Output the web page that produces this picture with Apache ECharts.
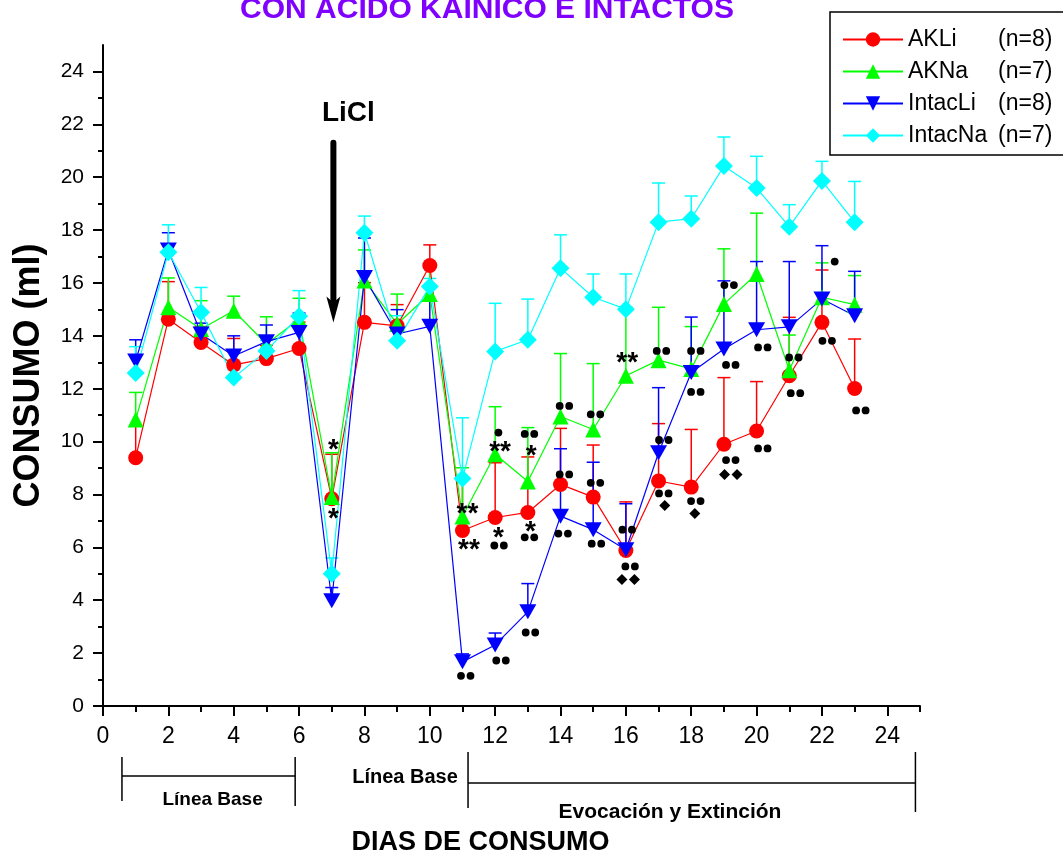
<!DOCTYPE html>
<html>
<head>
<meta charset="utf-8">
<script src="https://cdn.jsdelivr.net/npm/echarts@6/dist/echarts.min.js"></script>
<style>
html, body { margin: 0; padding: 0; background: #fff; }
#chart { width: 1063px; height: 853px; }
</style>
</head>
<body>
<div id="chart"></div>
<script>
var days = [1, 2, 3, 4, 5, 6, 7, 8, 9, 10, 11, 12, 13, 14, 15, 16, 17, 18, 19, 20, 21, 22, 23];

var akliMean = [9.39, 14.63, 13.75, 12.9, 13.14, 13.52, 7.84, 14.51, 14.38, 16.66, 6.64, 7.13, 7.32, 8.38, 7.9, 5.88, 8.51, 8.28, 9.9, 10.4, 12.49, 14.51, 12.01];
var akliErr = [1.2, 1.42, 0.6, 1.0, 0.5, 1.0, 1.68, 1.5, 0.8, 0.78, 1.9, 2.07, 2.1, 2.12, 1.97, 1.84, 2.17, 2.18, 2.52, 1.87, 2.21, 1.98, 1.87];

var aknaMean = [10.84, 15.08, 14.26, 14.95, 13.69, 14.63, 7.9, 16.09, 14.45, 15.58, 7.17, 9.52, 8.49, 10.95, 10.46, 12.49, 13.08, 12.75, 15.2, 16.34, 12.7, 15.46, 15.18];
var aknaErr = [1.02, 1.11, 1.07, 0.55, 1.03, 0.79, 1.68, 1.16, 1.13, 1.06, 1.84, 1.8, 2.04, 2.38, 2.49, 2.59, 2.0, 1.6, 2.09, 2.3, 1.33, 1.3, 1.1];

var intacliMean = [13.05, 17.25, 14.07, 13.24, 13.78, 14.13, 3.98, 16.21, 14.07, 14.36, 1.67, 2.31, 3.56, 7.18, 6.67, 5.91, 9.58, 12.61, 13.5, 14.23, 14.34, 15.39, 14.76];
var intacliErr = [0.8, 0.65, 0.41, 0.76, 0.63, 0.73, 0.5, 1.49, 0.92, 1.47, 0.3, 0.45, 1.07, 2.55, 2.55, 1.74, 2.46, 2.1, 2.58, 2.58, 2.47, 2.02, 1.68];

var intacnaMean = [12.59, 17.16, 14.89, 12.42, 13.43, 14.74, 5.0, 17.9, 13.81, 15.87, 8.6, 13.41, 13.85, 16.56, 15.46, 15.01, 18.3, 18.43, 20.42, 19.59, 18.13, 19.86, 18.3];
var intacnaErr = [1.0, 1.04, 0.94, 0.3, 0.4, 0.97, 0.6, 0.63, 0.95, 0.3, 2.3, 1.82, 1.54, 1.26, 0.88, 1.33, 1.48, 0.86, 1.1, 1.2, 0.83, 0.74, 1.54];

var seriesNames = ['AKLi', 'AKNa', 'IntacLi', 'IntacNa'];
var seriesN = ['(n=8)', '(n=7)', '(n=8)', '(n=7)'];

var xMajorTicks = [0, 2, 4, 6, 8, 10, 12, 14, 16, 18, 20, 22, 24];
var xMinorTicks = [1, 3, 5, 7, 9, 11, 13, 15, 17, 19, 21, 23, 25];
var yMajorTicks = [0, 2, 4, 6, 8, 10, 12, 14, 16, 18, 20, 22, 24];
var yMinorTicks = [1, 3, 5, 7, 9, 11, 13, 15, 17, 19, 21, 23];

// significance marks: [day, value, text]
var marks = [
    [7.05, 9.93, '*'], [7.05, 7.31, '*'],
    [11.15, 7.53, '**'], [11.2, 6.14, '**'], [11.1, 1.14, '●●'],
    [12.1, 10.34, '●'], [12.15, 9.86, '**'], [12.1, 6.61, '*'], [12.12, 6.07, '●●'], [12.18, 1.72, '●●'],
    [13.05, 10.29, '●●'], [13.1, 9.71, '*'], [13.08, 6.82, '*'], [13.05, 6.38, '●●'], [13.08, 2.78, '●●'],
    [14.12, 11.35, '●●'], [14.12, 8.76, '●●'], [14.08, 6.52, '●●'],
    [15.07, 11.03, '●●'], [15.07, 8.44, '●●'], [15.1, 6.14, '●●'],
    [16.04, 13.22, '**'], [16.04, 6.67, '●●'], [16.13, 5.28, '●●'], [16.07, 4.78, '◆◆'],
    [17.09, 13.43, '●●'], [17.16, 10.06, '●●'], [17.16, 8.04, '●●'], [17.19, 7.58, '◆'],
    [18.14, 13.43, '●●'], [18.14, 11.88, '●●'], [18.14, 7.75, '●●'], [18.11, 7.28, '◆'],
    [19.16, 15.92, '●●'], [19.21, 12.9, '●●'], [19.21, 9.3, '●●'], [19.21, 8.76, '◆◆'],
    [20.19, 13.56, '●●'], [20.19, 9.74, '●●'],
    [21.14, 13.18, '●●'], [21.19, 11.83, '●●'],
    [22.39, 16.81, '●'], [22.16, 13.81, '●●'],
    [23.19, 11.18, '●●']
];

var colors = ['#ff0000', '#00ff00', '#0000ff', '#00ffff'];
var symbols = ['circle', 'triangle', 'path://M0,0 L10,0 L5,9 Z', 'diamond'];
var symbolSizes = [15, 16, [17, 15], 18];
var means = [akliMean, aknaMean, intacliMean, intacnaMean];
var errs = [akliErr, aknaErr, intacliErr, intacnaErr];

var FONT = "'Liberation Sans', Arial, sans-serif";

function errRender(color) {
    return function (params, api) {
        var x = api.value(0);
        var p0 = api.coord([x, api.value(1)]);
        var p1 = api.coord([x, api.value(2)]);
        var hw = 6.5;
        return {
            type: 'group',
            children: [
                { type: 'line', shape: { x1: p0[0], y1: p0[1], x2: p1[0], y2: p1[1] }, style: { stroke: color, lineWidth: 1.5 } },
                { type: 'line', shape: { x1: p1[0] - hw, y1: p1[1], x2: p1[0] + hw, y2: p1[1] }, style: { stroke: color, lineWidth: 1.5 } }
            ]
        };
    };
}

// dots, diamonds and asterisks drawn at the mark's data point
function markRender(params, api) {
    var p = api.coord([api.value(0), api.value(1)]);
    var txt = marks[params.dataIndex][2];
    var n = txt.length;
    var kids = [];
    if (txt.charAt(0) === '*') {
        kids.push({
            type: 'text', x: p[0], y: p[1] + 7,
            style: { text: txt, fill: '#000', font: 'bold 28px ' + FONT, align: 'center', verticalAlign: 'middle' }
        });
    } else if (txt.charAt(0) === '●') {
        for (var i = 0; i < n; i++) {
            kids.push({ type: 'circle', shape: { cx: p[0] + (i - (n - 1) / 2) * 9.5, cy: p[1], r: 3.9 }, style: { fill: '#000' } });
        }
    } else {
        for (var k = 0; k < n; k++) {
            var cx = p[0] + (k - (n - 1) / 2) * 12.5;
            kids.push({ type: 'polygon', shape: { points: [[cx, p[1] - 5.5], [cx + 5.5, p[1]], [cx, p[1] + 5.5], [cx - 5.5, p[1]]] }, style: { fill: '#000' } });
        }
    }
    return { type: 'group', children: kids };
}

var series = [];
for (var i = 0; i < 4; i++) {
    var lineData = [];
    var errData = [];
    for (var k = 0; k < days.length; k++) {
        lineData.push([days[k], means[i][k]]);
        errData.push([days[k], means[i][k], means[i][k] + errs[i][k]]);
    }
    series.push({
        name: 'err' + seriesNames[i],
        type: 'custom',
        renderItem: errRender(colors[i]),
        encode: { x: 0, y: [1, 2] },
        data: errData,
        z: 2,
        silent: true
    });
    series.push({
        name: seriesNames[i],
        type: 'line',
        data: lineData,
        symbol: symbols[i],
        symbolSize: symbolSizes[i],
        showAllSymbol: true,
        lineStyle: { color: colors[i], width: 1.2 },
        itemStyle: { color: colors[i] },
        z: 3,
        animation: false
    });
}

var markData = [];
for (var m = 0; m < marks.length; m++) markData.push([marks[m][0], marks[m][1]]);
series.push({
    name: 'marks',
    type: 'custom',
    renderItem: markRender,
    encode: { x: 0, y: 1 },
    data: markData,
    z: 5,
    silent: true
});

var chart = echarts.init(document.getElementById('chart'), null, { renderer: 'canvas' });

var nameMap = {};
for (var j = 0; j < 4; j++) nameMap[seriesNames[j]] = seriesN[j];

var axisLineStyle = { color: '#000', width: 2 };

var option = {
    backgroundColor: '#fff',
    animation: false,
    textStyle: { fontFamily: FONT },
    grid: { left: 103, right: 143, top: 45, bottom: 147, containLabel: false, outerBoundsMode: 'none' },
    legend: {
        data: seriesNames,
        orient: 'vertical',
        left: 830,
        top: 12,
        padding: [16, 40, 8, 12],
        borderColor: '#000',
        borderWidth: 1.5,
        itemWidth: 60,
        itemHeight: 18,
        itemGap: 9,
        textStyle: {
            fontSize: 24,
            color: '#000',
            fontFamily: FONT,
            rich: {
                n: { fontSize: 23, width: 90, fontFamily: FONT, color: '#000' },
                c: { fontSize: 23, fontFamily: FONT, color: '#000' }
            }
        },
        formatter: function (name) { return '{n|' + name + '}{c|' + nameMap[name] + '}'; }
    },
    xAxis: [{
        type: 'value',
        position: 'bottom',
        min: 0, max: 25, interval: 2,
        name: 'DIAS DE CONSUMO',
        nameLocation: 'middle',
        nameGap: 123,
        nameTextStyle: { fontSize: 27, fontWeight: 'bold', color: '#000', fontFamily: FONT, verticalAlign: 'top', padding: [0, 62, 0, 0] },
        axisLine: { onZero: false, lineStyle: axisLineStyle },
        axisTick: { show: true, inside: false, length: 10, lineStyle: axisLineStyle, customValues: xMajorTicks },
        axisLabel: { fontSize: 23, color: '#000', margin: 19, customValues: xMajorTicks },
        splitLine: { show: false }
    }, {
        type: 'value',
        position: 'bottom',
        min: 0, max: 25, interval: 2,
        axisLine: { show: false, onZero: false },
        axisTick: { show: true, inside: false, length: 6, lineStyle: axisLineStyle, customValues: xMinorTicks },
        axisLabel: { show: false },
        splitLine: { show: false }
    }],
    yAxis: [{
        type: 'value',
        position: 'left',
        min: 0, max: 25, interval: 2,
        name: 'CONSUMO (ml)',
        nameLocation: 'middle',
        nameGap: 56,
        nameRotate: 90,
        nameTextStyle: { fontSize: 36, fontWeight: 'bold', color: '#000', fontFamily: FONT },
        axisLine: { onZero: false, lineStyle: axisLineStyle },
        axisTick: { show: true, inside: false, length: 10, lineStyle: axisLineStyle, customValues: yMajorTicks },
        axisLabel: { fontSize: 21, color: '#000', margin: 19, customValues: yMajorTicks },
        splitLine: { show: false }
    }, {
        type: 'value',
        position: 'left',
        min: 0, max: 25, interval: 2,
        axisLine: { show: false, onZero: false },
        axisTick: { show: true, inside: false, length: 5, lineStyle: axisLineStyle, customValues: yMinorTicks },
        axisLabel: { show: false },
        splitLine: { show: false }
    }],
    series: series
};

chart.setOption(option);

// annotations drawn in pixel space from axis values
function px(x, y) { return chart.convertToPixel({ seriesIndex: 1 }, [x, y]); }

var arrowTop = px(7.05, 21.3);
var arrowTip = px(7.05, 14.5);
var bx1 = px(0.58, 0)[0], bx2 = px(5.88, 0)[0], bx3 = px(11.17, 0)[0], bx4 = px(24.86, 0)[0];

chart.setOption({
    graphic: [
        {
            type: 'text', x: 487, y: 10, z: 10,
            style: { text: 'CON ACIDO KAINICO E INTACTOS', fill: '#8000ff', font: 'bold 30px ' + FONT, textAlign: 'center', textVerticalAlign: 'middle' }
        },
        {
            type: 'text', x: arrowTop[0] + 15, y: 113, z: 10,
            style: { text: 'LiCl', fill: '#000', font: 'bold 28px ' + FONT, textAlign: 'center', textVerticalAlign: 'middle' }
        },
        {
            type: 'line', z: 10,
            shape: { x1: arrowTop[0], y1: arrowTop[1], x2: arrowTip[0], y2: arrowTip[1] - 18 },
            style: { stroke: '#000', lineWidth: 6, lineCap: 'round' }
        },
        {
            type: 'polygon', z: 10,
            shape: { points: [[arrowTip[0] - 7, arrowTip[1] - 26], [arrowTip[0], arrowTip[1] - 20], [arrowTip[0] + 7, arrowTip[1] - 26], [arrowTip[0], arrowTip[1]]] },
            style: { fill: '#000' }
        },
        // first baseline bracket
        { type: 'line', shape: { x1: bx1, y1: 757, x2: bx1, y2: 801 }, style: { stroke: '#000', lineWidth: 1.5 } },
        { type: 'line', shape: { x1: bx1, y1: 776, x2: bx2, y2: 776 }, style: { stroke: '#000', lineWidth: 1.5 } },
        { type: 'line', shape: { x1: bx2, y1: 757, x2: bx2, y2: 806 }, style: { stroke: '#000', lineWidth: 1.5 } },
        { type: 'text', x: (bx1 + bx2) / 2 + 4, y: 800, style: { text: 'Línea Base', fill: '#000', font: 'bold 19px ' + FONT, textAlign: 'center', textVerticalAlign: 'middle' } },
        { type: 'text', x: 405, y: 777, style: { text: 'Línea Base', fill: '#000', font: 'bold 20px ' + FONT, textAlign: 'center', textVerticalAlign: 'middle' } },
        // evocation bracket
        { type: 'line', shape: { x1: bx3, y1: 752, x2: bx3, y2: 808 }, style: { stroke: '#000', lineWidth: 1.5 } },
        { type: 'line', shape: { x1: bx3, y1: 783, x2: bx4, y2: 783 }, style: { stroke: '#000', lineWidth: 1.5 } },
        { type: 'line', shape: { x1: bx4, y1: 752, x2: bx4, y2: 812 }, style: { stroke: '#000', lineWidth: 1.5 } },
        { type: 'text', x: 670, y: 812, style: { text: 'Evocación y Extinción', fill: '#000', font: 'bold 21px ' + FONT, textAlign: 'center', textVerticalAlign: 'middle' } }
    ]
});
</script>
</body>
</html>
